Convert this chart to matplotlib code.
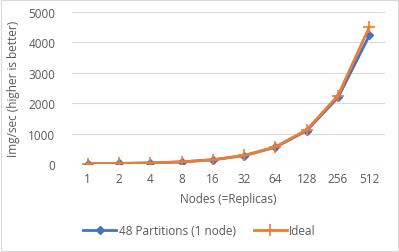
import numpy as np
import matplotlib.pyplot as plt

nodes = ["1", "2", "4", "8", "16", "32", "64", "128", "256", "512"]
partitions = [8.8, 17.5, 34.5, 69, 138, 275, 550, 1100, 2190, 4230]
ideal = [8.8, 17.6, 35.2, 70.4, 140.8, 281.6, 563, 1126, 2253, 4506]

plt.rcParams['font.family'] = ['Open Sans', 'DejaVu Sans']
txt = "#595959"

fig = plt.figure(figsize=(3.99, 2.53), dpi=100)
ax = fig.add_axes([72/399, 1-165/253, 313/399, 152/253])
x = np.arange(len(nodes))

ax.plot(x, partitions, color="#4472C4", marker="D", markersize=4.5, linewidth=2,
        label="48 Partitions (1 node)")
ax.plot(x, ideal, color="#ED7D31", marker="+", markersize=8, markeredgewidth=1.2,
        linewidth=2, label="Ideal")

ax.set_xlim(-0.5, len(nodes) - 0.5)
ax.set_ylim(0, 5000)
ax.set_yticks(range(0, 5001, 1000))
ax.set_xticks(x)
ax.set_xticklabels(nodes)
ax.grid(axis="y", color="#d9d9d9", linewidth=0.8)
ax.set_axisbelow(True)
for s in ax.spines.values():
    s.set_visible(False)
ax.tick_params(length=0, colors=txt, labelsize=8.5)
ax.tick_params(axis="y", pad=12)
ax.tick_params(axis="x", pad=6)
ax.set_xlabel("Nodes (=Replicas)", color=txt, fontsize=8.5, labelpad=5)
ax.set_ylabel("Img/sec (higher is better)", color=txt, fontsize=8.5, labelpad=6)

leg = fig.legend(loc="center", bbox_to_anchor=(0.5, 1 - 232/253), ncol=2, frameon=False,
                 fontsize=8.5, handlelength=2.8, columnspacing=1.5, handletextpad=0.2)
for t in leg.get_texts():
    t.set_color(txt)

fig.patches.append(plt.Rectangle((0.002, 0.003), 0.995, 0.993, transform=fig.transFigure,
                                 fill=False, edgecolor="#d9d9d9", linewidth=0.8))
fig.savefig("out.png", dpi=100)
